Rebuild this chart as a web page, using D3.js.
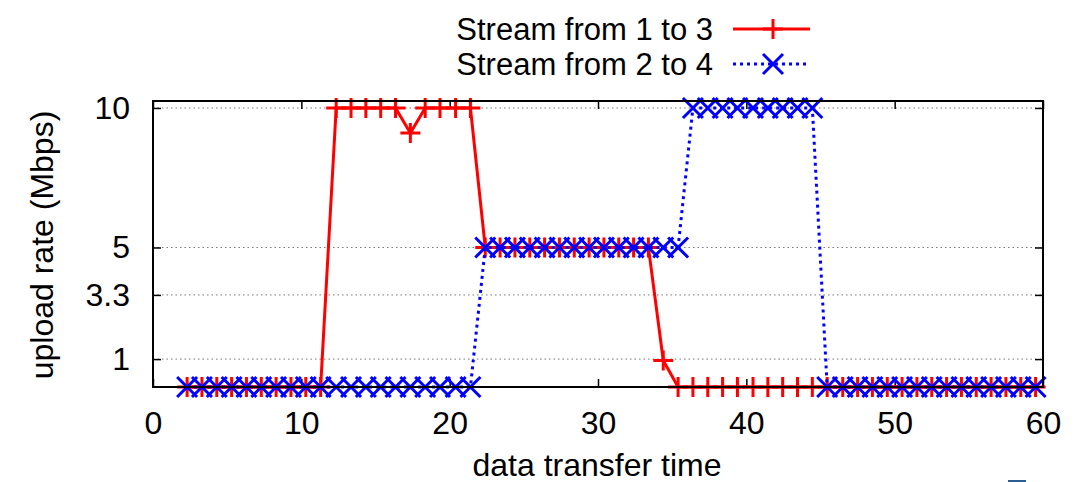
<!DOCTYPE html>
<html><head><meta charset="utf-8">
<script src="https://cdn.jsdelivr.net/npm/d3@7"></script>
<style>body{margin:0;background:#fff}svg{display:block}text{font-family:"Liberation Sans",Arial,sans-serif;fill:#000}</style>
</head><body><svg id="c" width="1088" height="482"></svg>
<script>
// data
const times = [2.3,3.3,4.3,5.3,6.3,7.3,8.3,9.3,10.3,11.3,12.35,13.35,14.35,15.35,16.35,17.35,18.35,19.35,20.4,21.4,
  22.4,23.4,24.4,25.4,26.4,27.4,28.4,29.4,30.4,31.4,32.4,33.4,34.4,35.4,36.4,37.4,38.4,39.4,40.45,41.45,
  42.45,43.45,44.45,45.45,46.5,47.5,48.5,49.5,50.5,51.5,52.5,53.5,54.5,55.5,56.5,57.5,58.5,59.5];
const stream13 = [0,0,0,0,0,0,0,0,0,0,10,10,10,10,10,9.1,10,10,10,10,
  5,5,5,5,5,5,5,5,5,5,5,5,0.95,0,0,0,0,0,0,0,
  0,0,0,0,0,0,0,0,0,0,0,0,0,0,0,0,0,0];
const stream24 = [0,0,0,0,0,0,0,0,0,0,0,0,0,0,0,0,0,0,0,0,
  5,5,5,5,5,5,5,5,5,5,5,5,5,5,10,10,10,10,10,10,
  10,10,10,0,0,0,0,0,0,0,0,0,0,0,0,0,0,0];
const seriesNames = ["Stream from 1 to 3","Stream from 2 to 4"];
const xTicks = [0,10,20,30,40,50,60];
const yTicks = [1,3.3,5,10];
const xLabel = "data transfer time";
const yLabel = "upload rate (Mbps)";

const svg = d3.select("#c");
const L=153,R=1043,T=101,B=387;
const x = d3.scaleLinear().domain([0,60]).range([L,R]);
const y = d3.scaleLinear().domain([0,10.25]).range([B,T]);
const FS = 32, LFS = 31;

// grid
svg.append("g").selectAll("line").data(yTicks).join("line")
  .attr("x1",L).attr("x2",R).attr("y1",d=>y(d)).attr("y2",d=>y(d))
  .attr("stroke","#777").attr("stroke-width",1).attr("stroke-dasharray","1.5,3");

// axes with inward ticks
const gx = svg.append("g").attr("transform",`translate(0,${B})`)
  .call(d3.axisBottom(x).tickValues(xTicks).tickSizeInner(-8).tickSizeOuter(0).tickPadding(24).tickFormat(d3.format("d")));
const gxt = svg.append("g").attr("transform",`translate(0,${T})`)
  .call(d3.axisTop(x).tickValues(xTicks).tickSizeInner(-8).tickSizeOuter(0).tickFormat(""));
const gy = svg.append("g").attr("transform",`translate(${L},0)`)
  .call(d3.axisLeft(y).tickValues(yTicks).tickSizeInner(-8).tickSizeOuter(0).tickPadding(23).tickFormat(d=>String(d)));
const gyr = svg.append("g").attr("transform",`translate(${R},0)`)
  .call(d3.axisRight(y).tickValues(yTicks).tickSizeInner(-8).tickSizeOuter(0).tickFormat(""));
[gx,gxt,gy,gyr].forEach(g=>{
  g.select(".domain").remove();
  g.selectAll(".tick line").attr("stroke","#000").attr("stroke-width",1.5);
  g.selectAll("text").attr("font-size",FS).attr("font-family","Liberation Sans, Arial, sans-serif").attr("fill","#000");
});
gx.selectAll("text").attr("dy","0.71em");

// lines
const s1 = times.map((t,i)=>[t,stream13[i]]);
const s2 = times.map((t,i)=>[t,stream24[i]]);
const line = d3.line().x(d=>x(d[0])).y(d=>y(d[1]));
svg.append("path").attr("d",line(s1)).attr("fill","none").attr("stroke","#f00").attr("stroke-width",3);

const M=10;
const plus = (g,cx,cy,col)=>g.append("path").attr("d",`M${cx-M},${cy}H${cx+M}M${cx},${cy-M}V${cy+M}`).attr("stroke",col).attr("stroke-width",3).attr("fill","none");
const cross = (g,cx,cy,col)=>g.append("path").attr("d",`M${cx-M},${cy-M}L${cx+M},${cy+M}M${cx-M},${cy+M}L${cx+M},${cy-M}`).attr("stroke",col).attr("stroke-width",3).attr("fill","none");
const m1 = svg.append("g");
s1.forEach(d=>plus(m1,x(d[0]),y(d[1]),"#f00"));

svg.append("path").attr("d",line(s2)).attr("fill","none").attr("stroke","#00f").attr("stroke-width",3).attr("stroke-dasharray","3,4");
const m2 = svg.append("g");
s2.forEach(d=>cross(m2,x(d[0]),y(d[1]),"#00f"));

// border
svg.append("rect").attr("x",L).attr("y",T).attr("width",R-L).attr("height",B-T)
  .attr("fill","none").attr("stroke","#000").attr("stroke-width",2);

// axis labels
svg.append("text").attr("x",597).attr("y",476).attr("text-anchor","middle").attr("font-size",FS).text(xLabel);
svg.append("text").attr("transform",`translate(53,245) rotate(-90)`).attr("text-anchor","middle").attr("font-size",FS).text(yLabel);

// legend
const lg = svg.append("g");
[[seriesNames[0],29,"#f00",null,plus],[seriesNames[1],64,"#00f","3,4",cross]].forEach(([name,ly,col,dash,mk])=>{
  lg.append("text").attr("x",713).attr("y",ly).attr("dy","0.35em").attr("text-anchor","end").attr("font-size",LFS).text(name);
  const l = lg.append("line").attr("x1",733).attr("x2",810).attr("y1",ly).attr("y2",ly).attr("stroke",col).attr("stroke-width",3);
  if(dash) l.attr("stroke-dasharray",dash);
  mk(lg,773,ly,col);
});

// small mark at bottom right
svg.append("line").attr("x1",1008).attr("x2",1026).attr("y1",481).attr("y2",481).attr("stroke","#2b5f91").attr("stroke-width",2);
</script></body></html>
